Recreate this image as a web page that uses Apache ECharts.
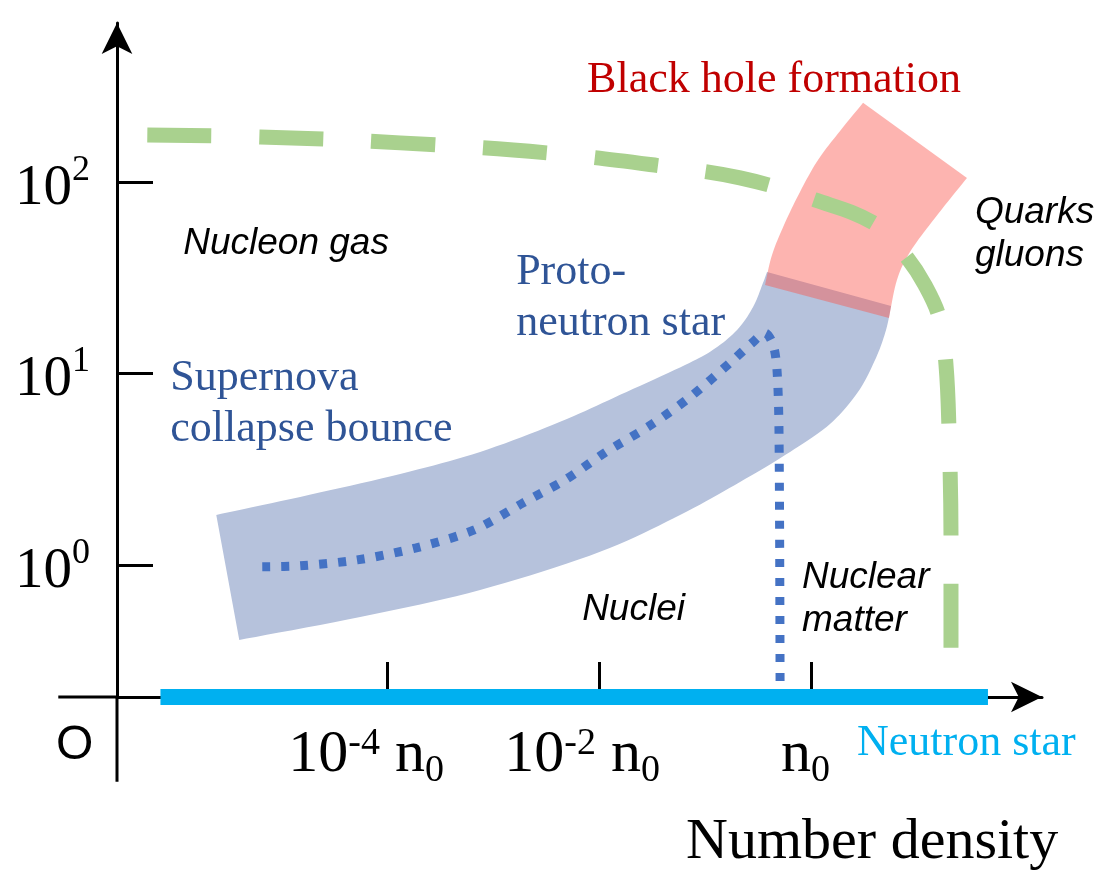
<!DOCTYPE html>
<html><head><meta charset="utf-8">
<script src="https://cdn.jsdelivr.net/npm/echarts@6/dist/echarts.min.js"></script>
<style>html,body{margin:0;padding:0;background:#fff}#c{width:1104px;height:874px}</style>
</head><body><div id="c"></div>
<script>
// x = log10(n / n0), y = log10(T); the x axis line itself is T = 0 ("O")
const xTickValues = [-4, -2, 0];
const yTickValues = [0, 1, 2];
const xTickExponents = ['-4', '-2', null];
const yTickExponents = ['0', '1', '2'];

// phase boundary (green dashed)
const phaseBoundary = [[-6.264,2.245],[-5.198,2.235],[-3.877,2.204],[-2.481,2.151],[-1.425,2.084],[-0.670,2.021],[0.038,1.906],[0.623,1.775],[0.887,1.619],[1.075,1.462],[1.217,1.279],[1.274,1.044],[1.302,0.705],[1.321,0.131],[1.321,-0.460]];
// supernova / proto-neutron-star trajectory (blue dotted)
const snTrajectory = [[-5.179,-0.010],[-4.821,-0.005],[-4.283,0.026],[-3.726,0.089],[-3.179,0.183],[-2.717,0.324],[-2.321,0.444],[-1.934,0.590],[-1.538,0.721],[-1.151,0.872],[-0.755,1.060],[-0.557,1.159],[-0.434,1.211],[-0.358,1.149],[-0.321,1.018],[-0.302,0.689],[-0.292,-0.642]];
// supernova band (blue region): upper boundary (left to right), lower boundary (right to left)
const snBandUpper = [[-5.613,0.261],[-4.821,0.355],[-3.877,0.475],[-3.123,0.590],[-2.368,0.747],[-1.802,0.888],[-1.189,1.044],[-0.925,1.123],[-0.698,1.227],[-0.547,1.347],[-0.453,1.473],[-0.415,1.530]];
const snBandLower = [[0.755,1.352],[0.708,1.227],[0.613,1.081],[0.443,0.903],[0.179,0.736],[-0.198,0.590],[-0.670,0.433],[-1.236,0.261],[-1.991,0.068],[-3.123,-0.131],[-4.255,-0.272],[-5.396,-0.392]];
// black hole formation region (pink): right boundary (top to bottom), left boundary (bottom to top)
const bhRight = [[1.472,2.021],[1.170,1.812],[0.934,1.634],[0.811,1.488],[0.736,1.290]];
const bhLeft = [[-0.434,1.462],[-0.368,1.619],[-0.255,1.775],[-0.104,1.948],[0.066,2.115],[0.274,2.266],[0.491,2.413]];
// cold neutron star line (T = 0)
const neutronStarLine = [[-6.14,-0.69],[1.67,-0.69]];

// annotations: text and anchor (data units)
const annoTexts = ['Black hole formation','Quarks\ngluons','Nucleon gas','Nuclei','Nuclear\nmatter','Supernova\ncollapse bounce','Proto-\nneutron star','Neutron star','Number density','O'];
const annoAnchors = [[-0.349,2.530],[1.547,1.729],[-5.925,1.676],[-2.160,-0.235],[-0.085,-0.180],[-6.047,0.841],[-2.783,1.394],[0.434,-0.932],[-1.179,-1.452],[-7.125,-0.945]];
const annoKinds = ['red','italic','italic','italic','italic','blue','blue','cyan','axis','origin'];

const X_MIN = -6.55, X_MAX = 2.18, Y_MIN = -0.69, Y_MAX = 2.83;
const X_EXT = -7.104, Y_EXT = -1.133;
const axisExtension = [[X_EXT, Y_MIN], [X_MIN, Y_MIN], [X_MIN, Y_EXT]];

const serif = '"Liberation Serif", "Times New Roman", serif';
const sans = '"Liberation Sans", Arial, Helvetica, sans-serif';
const kindStyle = {
  red:   {fontFamily: serif, fontSize: 44, fill: '#c00000', align: 'center', lineHeight: 51, fontStyle: 'normal'},
  italic:{fontFamily: sans, fontSize: 37, fill: '#000000', align: 'left', lineHeight: 43, fontStyle: 'italic'},
  blue:  {fontFamily: serif, fontSize: 44, fill: '#2f5496', align: 'left', lineHeight: 51, fontStyle: 'normal'},
  cyan:  {fontFamily: serif, fontSize: 44, fill: '#00b0f0', align: 'left', lineHeight: 51, fontStyle: 'normal'},
  axis:  {fontFamily: serif, fontSize: 58, fill: '#000000', align: 'left', lineHeight: 60, fontStyle: 'normal'},
  origin:{fontFamily: sans, fontSize: 48, fill: '#000000', align: 'left', lineHeight: 50, fontStyle: 'normal'}
};
const xPad = {'-4': 'p1', '-2': 'p2', '0': 'p3'};

// Catmull-Rom smoothing of an open pixel polyline (render-time only)
function smoothPixels(pix, steps) {
  const out = [];
  const n = pix.length;
  for (let i = 0; i < n - 1; i++) {
    const p0 = pix[Math.max(i - 1, 0)], p1 = pix[i], p2 = pix[i + 1], p3 = pix[Math.min(i + 2, n - 1)];
    const c1 = [p1[0] + (p2[0] - p0[0]) / 6, p1[1] + (p2[1] - p0[1]) / 6];
    const c2 = [p2[0] - (p3[0] - p1[0]) / 6, p2[1] - (p3[1] - p1[1]) / 6];
    for (let s = 0; s < steps; s++) {
      const t = s / steps, u = 1 - t;
      out.push([
        u*u*u*p1[0] + 3*u*u*t*c1[0] + 3*u*t*t*c2[0] + t*t*t*p2[0],
        u*u*u*p1[1] + 3*u*u*t*c1[1] + 3*u*t*t*c2[1] + t*t*t*p2[1]
      ]);
    }
  }
  out.push(pix[n - 1]);
  return out;
}

function regionSeries(edges, color, z) {
  return {
    type: 'custom', coordinateSystem: 'cartesian2d', clip: false, silent: true, z: z,
    data: [edges[0][0]],
    renderItem: function (params, api) {
      let pts = [];
      edges.forEach(function (edge) {
        pts = pts.concat(smoothPixels(edge.map(function (p) { return api.coord(p); }), 10));
      });
      return {type: 'polygon', shape: {points: pts}, style: {fill: color}};
    }
  };
}

const chart = echarts.init(document.getElementById('c'), null, {renderer: 'canvas'});
chart.setOption({
  animation: false,
  backgroundColor: '#ffffff',
  grid: {left: 117, right: 62, top: 23, bottom: 177, containLabel: false},
  xAxis: {
    type: 'value', min: X_MIN, max: X_MAX,
    splitLine: {show: false},
    axisLine: {show: true, onZero: false, symbol: ['none', 'arrow'], symbolSize: [23, 31], lineStyle: {color: '#000', width: 3}},
    axisTick: {show: true, inside: true, length: 35, customValues: xTickValues, lineStyle: {color: '#000', width: 3}},
    axisLabel: {
      show: true, margin: 28, customValues: xTickValues, color: '#000', fontFamily: serif,
      formatter: function (v) {
        const i = xTickValues.indexOf(v);
        const e = xTickExponents[i];
        const pad = '{' + xPad[String(v)] + '| }';
        if (e === null) return '{n|n}{sub|0}' + pad;
        return '{b|10}{sup|' + e + '}{n| n}{sub|0}' + pad;
      },
      rich: {
        b: {fontFamily: serif, fontSize: 60, lineHeight: 60, verticalAlign: 'top', color: '#000'},
        n: {fontFamily: serif, fontSize: 60, lineHeight: 60, verticalAlign: 'top', color: '#000'},
        sup: {fontFamily: serif, fontSize: 38, lineHeight: 45, verticalAlign: 'top', color: '#000'},
        sub: {fontFamily: serif, fontSize: 38, lineHeight: 38, padding: [27, 0, 0, 0], verticalAlign: 'top', color: '#000'},
        p1: {width: 42, fontSize: 10, lineHeight: 10, verticalAlign: 'top'},
        p2: {width: 34, fontSize: 10, lineHeight: 10, verticalAlign: 'top'},
        p3: {width: 11, fontSize: 10, lineHeight: 10, verticalAlign: 'top'}
      }
    }
  },
  yAxis: {
    type: 'value', min: Y_MIN, max: Y_MAX,
    splitLine: {show: false},
    axisLine: {show: true, onZero: false, symbol: ['none', 'arrow'], symbolSize: [23, 31], lineStyle: {color: '#000', width: 3}},
    axisTick: {show: true, inside: true, length: 36, customValues: yTickValues, lineStyle: {color: '#000', width: 3}},
    axisLabel: {
      show: true, margin: 27, customValues: yTickValues, color: '#000', fontFamily: serif,
      formatter: function (v) {
        return '{b|10}{sup|' + yTickExponents[yTickValues.indexOf(v)] + '}';
      },
      rich: {
        b: {fontFamily: serif, fontSize: 57, lineHeight: 57, padding: [8, 0, 0, 0], verticalAlign: 'top', color: '#000'},
        sup: {fontFamily: serif, fontSize: 36, lineHeight: 59, verticalAlign: 'top', color: '#000'}
      }
    }
  },
  series: [
    // axis lines continued through the origin
    {
      type: 'custom', coordinateSystem: 'cartesian2d', clip: false, silent: true, z: 1,
      data: [axisExtension[1]],
      renderItem: function (params, api) {
        return {type: 'polyline', shape: {points: axisExtension.map(function (p) { return api.coord(p); })},
                style: {stroke: '#000', lineWidth: 3, fill: null}};
      }
    },
    regionSeries([snBandUpper, snBandLower], '#b6c2dc', 2),
    regionSeries([bhRight, bhLeft], 'rgba(250,84,75,0.44)', 3),
    {type: 'line', data: phaseBoundary, smooth: 0.4, symbol: 'none', clip: false, silent: true, z: 4,
     lineStyle: {color: '#a9d18e', width: 15, type: [64, 48], cap: 'butt', join: 'round'}},
    {type: 'line', data: snTrajectory, smooth: 0.3, symbol: 'none', clip: false, silent: true, z: 5,
     lineStyle: {color: '#4472c4', width: 9, type: [8, 11], cap: 'butt'}},
    {type: 'line', data: neutronStarLine, symbol: 'none', clip: false, silent: true, z: 6,
     lineStyle: {color: '#00b0f0', width: 16, cap: 'butt'}},
    {
      type: 'custom', coordinateSystem: 'cartesian2d', clip: false, silent: true, z: 10,
      data: annoAnchors,
      renderItem: function (params, api) {
        const i = params.dataIndex;
        const s = kindStyle[annoKinds[i]];
        const p = api.coord(annoAnchors[i]);
        return {type: 'text', x: p[0], y: p[1], style: {
          text: annoTexts[i], fill: s.fill, fontFamily: s.fontFamily, fontSize: s.fontSize,
          fontStyle: s.fontStyle, align: s.align, verticalAlign: 'middle', lineHeight: s.lineHeight
        }};
      }
    }
  ]
});
</script></body></html>
